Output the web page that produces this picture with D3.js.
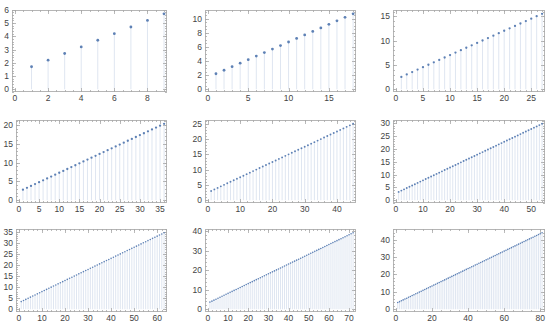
<!DOCTYPE html>
<html><head><meta charset="utf-8">
<script src="https://cdn.jsdelivr.net/npm/d3@7"></script>
<style>
html,body{margin:0;padding:0;background:#fff;}
svg{display:block;}
text{font-family:"Liberation Sans",Arial,sans-serif;}
</style></head>
<body>
<svg id="chart" width="550" height="327"></svg>
<script>
// ---- data: values at x = 1..N for each panel ----
const series1 = [1.7,2.2,2.7,3.2,3.7,4.2,4.7,5.2,5.7];
const series2 = [2.2,2.7,3.2,3.7,4.2,4.7,5.2,5.7,6.2,6.7,7.2,7.7,8.2,8.7,9.2,9.7,10.2,10.7];
const series3 = [2.55,3.05,3.55,4.05,4.55,5.05,5.55,6.05,6.55,7.05,7.55,8.05,8.55,9.05,9.55,10.05,10.55,11.05,11.55,12.05,12.55,13.05,13.55,14.05,14.55,15.05,15.55];
const series4 = [2.8,3.3,3.8,4.3,4.8,5.3,5.8,6.3,6.8,7.3,7.8,8.3,8.8,9.3,9.8,10.3,10.8,11.3,11.8,12.3,12.8,13.3,13.8,14.3,14.8,15.3,15.8,16.3,16.8,17.3,17.8,18.3,18.8,19.3,19.8,20.3];
const series5 = [3.05,3.55,4.05,4.55,5.05,5.55,6.05,6.55,7.05,7.55,8.05,8.55,9.05,9.55,10.05,10.55,11.05,11.55,12.05,12.55,13.05,13.55,14.05,14.55,15.05,15.55,16.05,16.55,17.05,17.55,18.05,18.55,19.05,19.55,20.05,20.55,21.05,21.55,22.05,22.55,23.05,23.55,24.05,24.55,25.05];
const series6 = [3.25,3.75,4.25,4.75,5.25,5.75,6.25,6.75,7.25,7.75,8.25,8.75,9.25,9.75,10.25,10.75,11.25,11.75,12.25,12.75,13.25,13.75,14.25,14.75,15.25,15.75,16.25,16.75,17.25,17.75,18.25,18.75,19.25,19.75,20.25,20.75,21.25,21.75,22.25,22.75,23.25,23.75,24.25,24.75,25.25,25.75,26.25,26.75,27.25,27.75,28.25,28.75,29.25,29.75];
const series7 = [3.45,3.95,4.45,4.95,5.45,5.95,6.45,6.95,7.45,7.95,8.45,8.95,9.45,9.95,10.45,10.95,11.45,11.95,12.45,12.95,13.45,13.95,14.45,14.95,15.45,15.95,16.45,16.95,17.45,17.95,18.45,18.95,19.45,19.95,20.45,20.95,21.45,21.95,22.45,22.95,23.45,23.95,24.45,24.95,25.45,25.95,26.45,26.95,27.45,27.95,28.45,28.95,29.45,29.95,30.45,30.95,31.45,31.95,32.45,32.95,33.45,33.95,34.45];
const series8 = [3.65,4.15,4.65,5.15,5.65,6.15,6.65,7.15,7.65,8.15,8.65,9.15,9.65,10.15,10.65,11.15,11.65,12.15,12.65,13.15,13.65,14.15,14.65,15.15,15.65,16.15,16.65,17.15,17.65,18.15,18.65,19.15,19.65,20.15,20.65,21.15,21.65,22.15,22.65,23.15,23.65,24.15,24.65,25.15,25.65,26.15,26.65,27.15,27.65,28.15,28.65,29.15,29.65,30.15,30.65,31.15,31.65,32.15,32.65,33.15,33.65,34.15,34.65,35.15,35.65,36.15,36.65,37.15,37.65,38.15,38.65,39.15];
const series9 = [3.85,4.35,4.85,5.35,5.85,6.35,6.85,7.35,7.85,8.35,8.85,9.35,9.85,10.35,10.85,11.35,11.85,12.35,12.85,13.35,13.85,14.35,14.85,15.35,15.85,16.35,16.85,17.35,17.85,18.35,18.85,19.35,19.85,20.35,20.85,21.35,21.85,22.35,22.85,23.35,23.85,24.35,24.85,25.35,25.85,26.35,26.85,27.35,27.85,28.35,28.85,29.35,29.85,30.35,30.85,31.35,31.85,32.35,32.85,33.35,33.85,34.35,34.85,35.35,35.85,36.35,36.85,37.35,37.85,38.35,38.85,39.35,39.85,40.35,40.85,41.35,41.85,42.35,42.85,43.35,43.85];

// ---- tick labels ----
const xTicks1 = [0,2,4,6,8];           const yTicks1 = [0,1,2,3,4,5,6];
const xTicks2 = [0,5,10,15];           const yTicks2 = [0,2,4,6,8,10];
const xTicks3 = [0,5,10,15,20,25];     const yTicks3 = [0,5,10,15];
const xTicks4 = [0,5,10,15,20,25,30,35]; const yTicks4 = [0,5,10,15,20];
const xTicks5 = [0,10,20,30,40];       const yTicks5 = [0,5,10,15,20,25];
const xTicks6 = [0,10,20,30,40,50];    const yTicks6 = [0,5,10,15,20,25,30];
const xTicks7 = [0,10,20,30,40,50,60]; const yTicks7 = [0,5,10,15,20,25,30,35];
const xTicks8 = [0,10,20,30,40,50,60,70]; const yTicks8 = [0,10,20,30,40];
const xTicks9 = [0,20,40,60,80];       const yTicks9 = [0,10,20,30,40];

const panels = [
  {vals:series1, xt:xTicks1, yt:yTicks1},
  {vals:series2, xt:xTicks2, yt:yTicks2},
  {vals:series3, xt:xTicks3, yt:yTicks3},
  {vals:series4, xt:xTicks4, yt:yTicks4},
  {vals:series5, xt:xTicks5, yt:yTicks5},
  {vals:series6, xt:xTicks6, yt:yTicks6},
  {vals:series7, xt:xTicks7, yt:yTicks7},
  {vals:series8, xt:xTicks8, yt:yTicks8},
  {vals:series9, xt:xTicks9, yt:yTicks9}
];

// ---- layout ----
const rowTB = [[10,92],[120,203],[229,312]];
const colLR = [[16,167],[205,356],[393,545]];

const svg = d3.select("#chart");
const blue = "#5e81b5";
const stemColor = "#dfe6f1";
const frameColor = "#b5b5b5";
const tickColor = "#a8a8a8";

panels.forEach((p, i) => {
  const r = Math.floor(i/3), c = i%3;
  let [L, R] = colLR[c];
  if (i === 0) L = 12;
  const [T, B] = rowTB[r];
  const N = p.vals.length;
  const ymax = d3.max(p.vals);
  const data = p.vals.map((v,k)=>({x:k+1, y:v}));
  const x = d3.scaleLinear().domain([-0.02*N, 1.02*N]).range([L, R]);
  const y = d3.scaleLinear().domain([-0.036*ymax, 1.05*ymax]).range([B, T]);
  const g = svg.append("g");

  // stems
  g.selectAll("line.stem").data(data).enter().append("line")
    .attr("x1", d=>x(d.x)).attr("x2", d=>x(d.x))
    .attr("y1", y(0)).attr("y2", d=>y(d.y))
    .attr("stroke", stemColor).attr("stroke-width", 1);

  // frame
  g.append("rect").attr("x", L+0.5).attr("y", T+0.5)
    .attr("width", R-L-1).attr("height", B-T-1)
    .attr("fill","none").attr("stroke", frameColor).attr("stroke-width",1);

  // minor ticks
  const xStep = p.xt[1]-p.xt[0], yStep = p.yt[1]-p.yt[0];
  const xSub = (xStep===2||xStep===20) ? 4 : 5;
  const ySub = (yStep===2||yStep===20) ? 4 : 5;
  const xd = x.domain(), yd = y.domain();
  const xMinor = d3.range(Math.ceil(xd[0]/(xStep/xSub))*(xStep/xSub), xd[1], xStep/xSub);
  const yMinor = d3.range(Math.ceil(yd[0]/(yStep/ySub))*(yStep/ySub), yd[1], yStep/ySub);
  const tk = g.append("g").attr("stroke", tickColor).attr("stroke-width",0.8);
  xMinor.forEach(v=>{
    const px = Math.round(x(v))+0.5;
    tk.append("line").attr("x1",px).attr("x2",px).attr("y1",B).attr("y2",B-2);
    tk.append("line").attr("x1",px).attr("x2",px).attr("y1",T).attr("y2",T+2);
  });
  yMinor.forEach(v=>{
    const py = Math.round(y(v))+0.5;
    tk.append("line").attr("x1",L).attr("x2",L+2).attr("y1",py).attr("y2",py);
    tk.append("line").attr("x1",R).attr("x2",R-2).attr("y1",py).attr("y2",py);
  });
  p.xt.forEach(v=>{
    const px = Math.round(x(v))+0.5;
    tk.append("line").attr("x1",px).attr("x2",px).attr("y1",B).attr("y2",B-4);
    tk.append("line").attr("x1",px).attr("x2",px).attr("y1",T).attr("y2",T+4);
  });
  p.yt.forEach(v=>{
    const py = Math.round(y(v))+0.5;
    tk.append("line").attr("x1",L).attr("x2",L+4).attr("y1",py).attr("y2",py);
    tk.append("line").attr("x1",R).attr("x2",R-4).attr("y1",py).attr("y2",py);
  });

  // tick labels
  g.selectAll("text.xl").data(p.xt).enter().append("text")
    .attr("x", d=>x(d)).attr("y", B+9)
    .attr("text-anchor","middle").attr("font-size",8.5).attr("fill","#444")
    .text(d=>d);
  g.selectAll("text.yl").data(p.yt).enter().append("text")
    .attr("x", L-3).attr("y", d=>y(d)+3)
    .attr("text-anchor","end").attr("font-size",8.5).attr("fill","#444")
    .text(d=>d);

  // points
  const rad = N <= 20 ? 1.4 : N <= 40 ? 1.15 : N <= 60 ? 0.95 : 0.8;
  g.selectAll("circle").data(data).enter().append("circle")
    .attr("cx", d=>x(d.x)).attr("cy", d=>y(d.y))
    .attr("r", rad).attr("fill", blue);
});
</script>
</body></html>
